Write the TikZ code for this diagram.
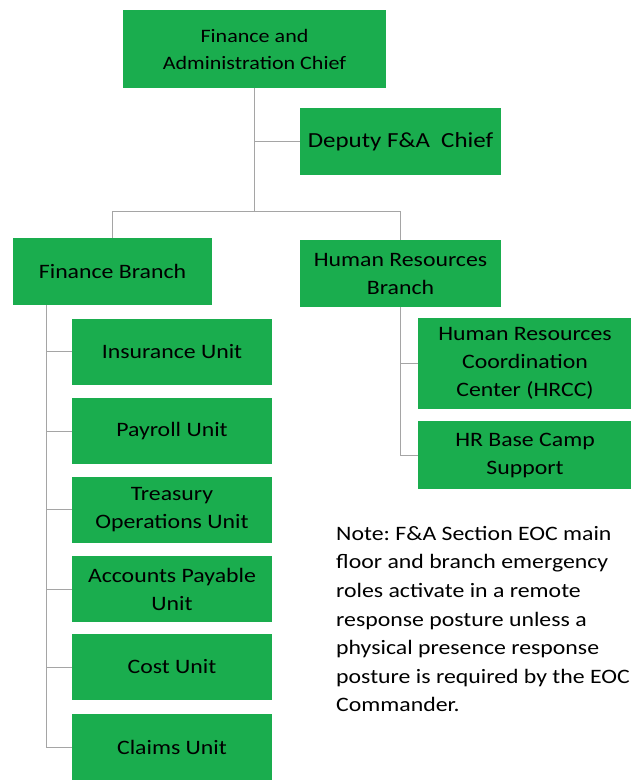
\documentclass[tikz,border=0pt]{standalone}
\usepackage{fontspec}
\setmainfont{Carlito}[FakeStretch=1.16]
\frenchspacing
\definecolor{boxgreen}{RGB}{26,173,78}
\definecolor{linegray}{RGB}{165,165,165}
\tikzset{
  box/.style={draw=none, fill=boxgreen, text=black, align=center, inner sep=0pt,
    font=\fontsize{20.5}{28}\selectfont},
  conn/.style={draw=linegray, line width=1pt},
}
\begin{document}
\begin{tikzpicture}[x=1pt,y=-1pt]
\clip (0,0) rectangle (631,781);
\fill[white] (0,0) rectangle (631,781);
\useasboundingbox (0,0) rectangle (631,781);

\node[box, minimum width=263pt, minimum height=78pt, font=\fontsize{19}{27}\selectfont] (top) at (254.5,49) {Finance and\\Administration Chief};
\node[box, minimum width=201pt, minimum height=67pt, font=\fontsize{21.5}{28}\selectfont] (dep) at (400.5,141.5) {Deputy F\&A\ \ Chief};
\node[box, minimum width=199pt, minimum height=67pt] (finb) at (112.5,271.5) {Finance Branch};
\node[box, minimum width=201pt, minimum height=67pt] (hrb) at (400.5,273.5) {Human Resources\\Branch};

\node[box, minimum width=200pt, minimum height=66pt] (ins) at (172,351.5) {Insurance Unit};
\node[box, minimum width=200pt, minimum height=66pt] (pay) at (172,431) {Payroll Unit};
\node[box, minimum width=200pt, minimum height=66pt] (tre) at (172,509.5) {Treasury\\Operations Unit};
\node[box, minimum width=200pt, minimum height=66pt] (acc) at (172,589) {Accounts Payable\\Unit};
\node[box, minimum width=200pt, minimum height=66pt] (cost) at (172,667) {Cost Unit};
\node[box, minimum width=200pt, minimum height=66pt] (claims) at (172,747) {Claims Unit};

\node[box, minimum width=214pt, minimum height=91pt] (hrcc) at (525,363.5) {Human Resources\\Coordination\\Center (HRCC)};
\node[box, minimum width=214pt, minimum height=68pt] (hrbase) at (525,455) {HR Base Camp\\Support};

\node[anchor=north west, inner sep=0pt, align=left, text=black,
  font=\fontsize{20.5}{28.6}\selectfont] (note) at (336,526)
  {Note: F\&A Section EOC main\\floor and branch emergency\\roles activate in a remote\\response posture unless a\\physical presence response\\posture is required by the EOC\\Commander.};

% connectors
\coordinate (j1) at (254.5,211);
\coordinate (jd) at (254.5,141.5);
\coordinate (fv) at (46,305);
\coordinate (hv) at (400.5,307);
\draw[conn] (top.south) -- (j1);
\draw[conn] (jd) -- (dep.west);
\draw[conn] (j1) -| (finb.north);
\draw[conn] (j1) -| (hrb.north);
\draw[conn] (fv) |- (ins.west);
\draw[conn] (fv) |- (pay.west);
\draw[conn] (fv) |- (tre.west);
\draw[conn] (fv) |- (acc.west);
\draw[conn] (fv) |- (cost.west);
\draw[conn] (fv) |- (claims.west);
\draw[conn] (hv) |- (hrcc.west);
\draw[conn] (hv) |- (hrbase.west);
\end{tikzpicture}
\end{document}
